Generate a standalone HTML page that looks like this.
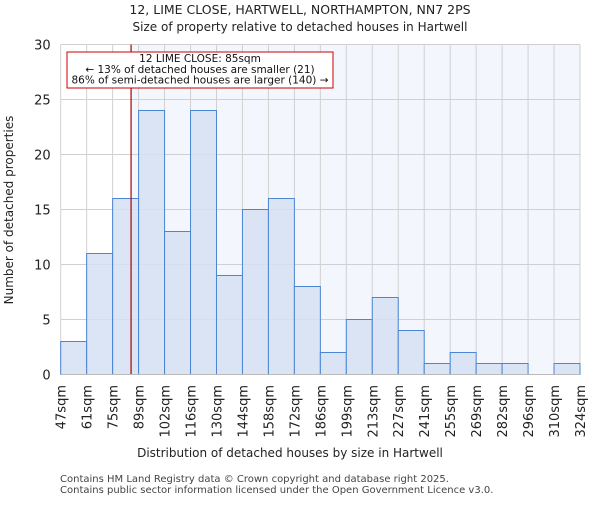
<!DOCTYPE html>
<html><head><meta charset="utf-8"><style>body{margin:0;background:#fff}svg{font-family:"DejaVu Sans","Liberation Sans",sans-serif}</style></head>
<body>
<svg width="600" height="500">
<text x="300" y="14" text-anchor="middle" font-size="12.5" fill="#222">12, LIME CLOSE, HARTWELL, NORTHAMPTON, NN7 2PS</text>
<text x="300" y="31" text-anchor="middle" font-size="12" fill="#222">Size of property relative to detached houses in Hartwell</text>
<g id="plot"></g>
<text x="290" y="457" text-anchor="middle" font-size="12" fill="#222">Distribution of detached houses by size in Hartwell</text>
<text transform="translate(13,210) rotate(-90)" text-anchor="middle" font-size="12" fill="#222">Number of detached properties</text>
<text x="60" y="482" font-size="10" fill="#444">Contains HM Land Registry data © Crown copyright and database right 2025.</text>
<text x="60" y="493" font-size="10" fill="#444">Contains public sector information licensed under the Open Government Licence v3.0.</text>
</svg>
<script>
const tickLabels=["47sqm","61sqm","75sqm","89sqm","102sqm","116sqm","130sqm","144sqm","158sqm","172sqm","186sqm","199sqm","213sqm","227sqm","241sqm","255sqm","269sqm","282sqm","296sqm","310sqm","324sqm"];
const counts=[3,11,16,24,13,24,9,15,16,8,2,5,7,4,1,2,1,1,0,1];
const yTicks=[0,5,10,15,20,25,30];
const subjectPos=2.71;
const L=60.7,R=580,T=44.5,B=374.5,yMax=30;
const ns="http://www.w3.org/2000/svg";
const g=document.getElementById('plot');
const bw=(R-L)/counts.length;
const xs=i=>L+i*bw, ys=v=>B-(v/yMax)*(B-T);
function mk(t,a,p){const e=document.createElementNS(ns,t);for(const k in a)e.setAttribute(k,a[k]);(p||g).appendChild(e);return e;}
const mx=xs(subjectPos);
let bg=mk('rect',{x:mx,y:T,width:R-mx,height:B-T,fill:'#f4f6fd'});


for(let i=0;i<tickLabels.length;i++){let l=mk('line',{x1:xs(i),x2:xs(i),y1:T,y2:B,stroke:'#d0d0d0'});

}
yTicks.forEach(v=>{let l=mk('line',{x1:L,x2:R,y1:ys(v),y2:ys(v),stroke:'#d0d0d0'});


let t=mk('text',{x:L-10,y:ys(v)+5,'text-anchor':'end','font-size':13,fill:'#222'});t.textContent=v;

});
counts.forEach((c,i)=>{if(c<=0)return;let r=mk('rect',{x:xs(i),y:ys(c),width:bw,height:B-ys(c),fill:'#d6e1f3','fill-opacity':0.85,stroke:'#4a86d4','stroke-width':1});

});
tickLabels.forEach((s,i)=>{let t=mk('text',{transform:`translate(${xs(i)+5},385) rotate(-90)`,'text-anchor':'end','font-size':13,fill:'#222'});t.textContent=s;

});
let ml=mk('line',{x1:mx,x2:mx,y1:T,y2:B,stroke:'#aa0000','stroke-width':1.2});


let box=mk('rect',{x:67,y:52,width:266,height:36,fill:'#fff',stroke:'#cc0000','stroke-width':1});


["12 LIME CLOSE: 85sqm","← 13% of detached houses are smaller (21)","86% of semi-detached houses are larger (140) →"].forEach((s,k)=>{let t=mk('text',{x:200,y:62+k*10.8,'text-anchor':'middle','font-size':10.5,fill:'#111'});t.textContent=s;

});
let ax=mk('line',{x1:L,x2:R,y1:B,y2:B,stroke:'#bbb'});


</script>
</body></html>
